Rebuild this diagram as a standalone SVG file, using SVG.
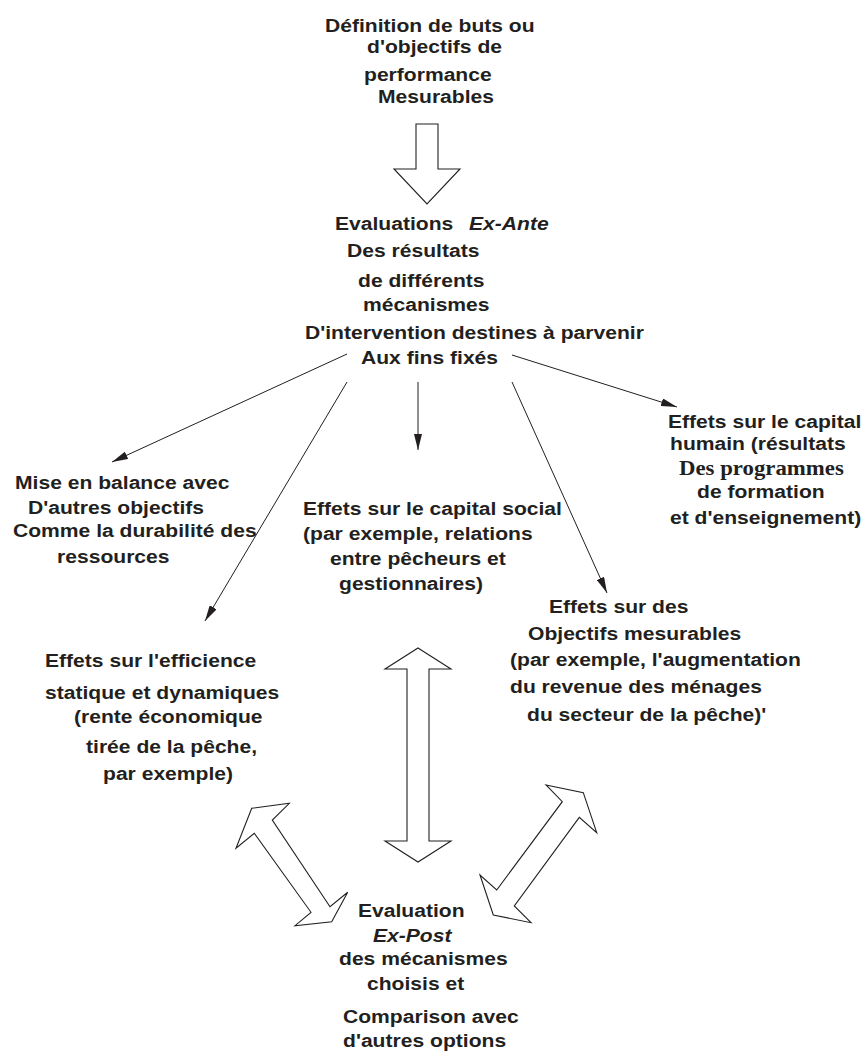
<svg xmlns="http://www.w3.org/2000/svg" width="865" height="1052" viewBox="0 0 865 1052">
<style>
text{font-family:"Liberation Sans",Arial,sans-serif;font-weight:bold;font-size:18.5px;fill:#231f20}
.it{font-style:italic}
.sf{font-family:"Liberation Serif","Times New Roman",serif;font-size:20px}
.con{stroke:#231f20;stroke-width:1;fill:none}
.hol{stroke:#231f20;stroke-width:1.1;fill:#fff;stroke-linejoin:miter}
</style>
<defs>
<marker id="ah" viewBox="0 0 16 8" refX="16" refY="4" markerWidth="16" markerHeight="8" markerUnits="userSpaceOnUse" orient="auto">
<path d="M0,0 L16,4 L0,8 z" fill="#231f20"/>
</marker>
</defs>
<rect width="865" height="1052" fill="#fff"/>

<g id="node-definition">
<text transform="matrix(1.14 0 0 1 325 32)">Définition de buts ou</text>
<text transform="matrix(1.14 0 0 1 367 53)">d'objectifs de</text>
<text transform="matrix(1.14 0 0 1 364 81)">performance</text>
<text transform="matrix(1.14 0 0 1 378 103)">Mesurables</text>
</g>

<g id="node-exante">
<text transform="matrix(1.14 0 0 1 335 230)">Evaluations</text>
<text class="it" transform="matrix(1.14 0 0 1 469 230)">Ex-Ante</text>
<text transform="matrix(1.14 0 0 1 347 257)">Des résultats</text>
<text transform="matrix(1.14 0 0 1 358 287)">de différents</text>
<text transform="matrix(1.14 0 0 1 363 311)">mécanismes</text>
<text transform="matrix(1.14 0 0 1 305 339)">D'intervention destines à parvenir</text>
<text transform="matrix(1.14 0 0 1 361 364)">Aux fins fixés</text>
</g>

<g id="node-balance">
<text transform="matrix(1.14 0 0 1 15 489)">Mise en balance avec</text>
<text transform="matrix(1.14 0 0 1 28 514)">D'autres objectifs</text>
<text transform="matrix(1.14 0 0 1 13 537)">Comme la durabilité des</text>
<text transform="matrix(1.14 0 0 1 57 563)">ressources</text>
</g>

<g id="node-social">
<text transform="matrix(1.14 0 0 1 303 515)">Effets sur le capital social</text>
<text transform="matrix(1.14 0 0 1 303 540)">(par exemple, relations</text>
<text transform="matrix(1.14 0 0 1 330 565)">entre pêcheurs et</text>
<text transform="matrix(1.14 0 0 1 339 590)">gestionnaires)</text>
</g>

<g id="node-humain">
<text transform="matrix(1.14 0 0 1 668 428)">Effets sur le capital</text>
<text transform="matrix(1.14 0 0 1 670 450)">humain (résultats</text>
<text class="sf" transform="matrix(1.14 0 0 1 679 475)">Des programmes</text>
<text transform="matrix(1.14 0 0 1 697 498)">de formation</text>
<text transform="matrix(1.14 0 0 1 670 524)">et d'enseignement)</text>
</g>

<g id="node-objectifs">
<text transform="matrix(1.14 0 0 1 549 613)">Effets sur des</text>
<text transform="matrix(1.14 0 0 1 528 640)">Objectifs mesurables</text>
<text transform="matrix(1.14 0 0 1 510 666)">(par exemple, l'augmentation</text>
<text transform="matrix(1.14 0 0 1 510 693)">du revenue des ménages</text>
<text transform="matrix(1.14 0 0 1 527 721)">du secteur de la pêche)'</text>
</g>

<g id="node-efficience">
<text transform="matrix(1.14 0 0 1 45 667)">Effets sur l'efficience</text>
<text transform="matrix(1.14 0 0 1 45 699)">statique et dynamiques</text>
<text transform="matrix(1.14 0 0 1 74 723)">(rente économique</text>
<text transform="matrix(1.14 0 0 1 86 753)">tirée de la pêche,</text>
<text transform="matrix(1.14 0 0 1 103 780)">par exemple)</text>
</g>

<g id="node-expost">
<text transform="matrix(1.14 0 0 1 358 917)">Evaluation</text>
<text class="it" transform="matrix(1.14 0 0 1 373 942)">Ex-Post</text>
<text transform="matrix(1.14 0 0 1 339 965)">des mécanismes</text>
<text transform="matrix(1.14 0 0 1 367 990)">choisis et</text>
<text transform="matrix(1.14 0 0 1 343 1023)">Comparison avec</text>
<text transform="matrix(1.14 0 0 1 343 1047)">d'autres options</text>
</g>

<g id="connectors">
<line class="con" x1="347" y1="354" x2="112" y2="462" marker-end="url(#ah)"/>
<line class="con" x1="347" y1="382" x2="205" y2="621" marker-end="url(#ah)"/>
<line class="con" x1="418" y1="382" x2="418" y2="450" marker-end="url(#ah)"/>
<line class="con" x1="512" y1="355" x2="677" y2="407" marker-end="url(#ah)"/>
<line class="con" x1="512" y1="382" x2="607" y2="593" marker-end="url(#ah)"/>
<polygon class="hol" points="416,124 438,124 438,169 460,169 427,204 394,169 416,169"/>
<polygon class="hol" points="418,648 451,669 429,669 429,841 451,841 418,862 385,841 407,841 407,669 385,669"/>
<polygon class="hol" points="251.7,808.3 289.3,803.3 272.3,820 330,906.7 347.7,892.3 331.7,921.7 295,925.7 311,912.3 254.3,833.3 236,848.3"/>
<polygon class="hol" points="546,785 583.3,792.7 596.7,832.7 579.3,817.3 514.3,906 531,922.7 493.3,915 480,875 496.7,890 562.3,801.7"/>
</g>
</svg>
